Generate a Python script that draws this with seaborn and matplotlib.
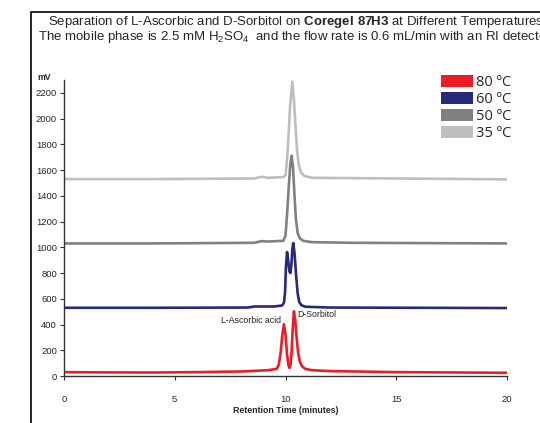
import numpy as np
import pandas as pd
import seaborn as sns
import matplotlib.pyplot as plt
from matplotlib.patches import Patch, Rectangle

# Chromatogram readings (retention time in minutes, signal in mV)
t_80 = [0, 2, 4, 6, 8, 9.2, 9.6, 9.7, 9.78, 9.85, 9.93, 10.0, 10.07, 10.13, 10.18,
        10.23, 10.28, 10.33, 10.38, 10.44, 10.5, 10.57, 10.65, 10.75, 10.9, 11.2, 12, 15, 20]
mv_80 = [30, 28, 27, 30, 35, 45, 55, 90, 180, 310, 403, 320, 170, 85, 62,
         90, 200, 380, 503, 430, 300, 180, 110, 75, 55, 45, 38, 30, 25]

t_60 = [0, 4, 8.3, 8.6, 9.0, 9.5, 9.85, 9.93, 9.98, 10.02, 10.07, 10.12, 10.18, 10.22,
        10.27, 10.31, 10.35, 10.41, 10.48, 10.55, 10.62, 10.72, 10.9, 12, 20]
mv_60 = [530, 530, 532, 540, 540, 540, 548, 570, 650, 850, 963, 900, 810, 800,
         870, 990, 1033, 950, 780, 640, 575, 550, 538, 532, 528]

t_50 = [0, 4, 8.6, 8.9, 9.2, 9.9, 10.0, 10.08, 10.15, 10.22, 10.28, 10.34, 10.4, 10.47,
        10.55, 10.65, 10.8, 11.2, 13, 20]
mv_50 = [1030, 1030, 1035, 1048, 1045, 1050, 1090, 1280, 1480, 1650, 1712, 1620, 1420, 1220,
         1110, 1070, 1050, 1040, 1035, 1030]

t_35 = [0, 4, 8.6, 8.9, 9.2, 9.9, 10.0, 10.07, 10.14, 10.21, 10.31, 10.39, 10.45, 10.52,
        10.6, 10.7, 10.85, 11.2, 20]
mv_35 = [1530, 1530, 1535, 1548, 1540, 1545, 1560, 1680, 1880, 2100, 2287, 2120, 1950, 1760,
         1640, 1580, 1555, 1540, 1528]

labels = ['80 ºC', '60 ºC', '50 ºC', '35 ºC']
colors = ['#ED1C24', '#262A78', '#808080', '#BEBEBE']

frames = []
for lab, t, mv in zip(labels, [t_80, t_60, t_50, t_35], [mv_80, mv_60, mv_50, mv_35]):
    frames.append(pd.DataFrame({'time': t, 'mV': mv, 'temp': lab}))
data = pd.concat(frames, ignore_index=True)

sns.set_style('white')
plt.rcParams['font.family'] = ['Liberation Sans', 'DejaVu Sans']
plt.rcParams['mathtext.fontset'] = 'custom'
plt.rcParams['mathtext.rm'] = 'Liberation Sans'
plt.rcParams['mathtext.bf'] = 'Liberation Sans:bold'

fig = plt.figure(figsize=(5.4, 4.23), dpi=100)
ax = fig.add_axes([64 / 540, 47 / 423, 443 / 540, 296 / 423])

# draw the coolest trace first so red sits on top
sns.lineplot(data=data, x='time', y='mV', hue='temp', hue_order=labels[::-1],
             palette=colors[::-1], estimator=None, sort=False, lw=1.9,
             legend=False, ax=ax)

ax.set_xlim(0, 20)
ax.set_ylim(0, 2300)
ax.set_xticks([0, 5, 10, 15, 20])
ax.set_yticks(range(0, 2201, 200))
for s in ['top', 'right']:
    ax.spines[s].set_visible(False)
for s in ['left', 'bottom']:
    ax.spines[s].set_color('#333333')
    ax.spines[s].set_linewidth(1.0)
ax.tick_params(axis='both', labelsize=6.8, length=3, width=0.8, color='#333333',
               left=True, bottom=True, pad=2)
ax.tick_params(axis='x', pad=11)
ax.set_xlabel('Retention Time (minutes)', fontsize=6.3, fontweight='bold', labelpad=1)
ax.set_ylabel('')
ax.text(-0.045, 1.01, 'mV', transform=ax.transAxes, fontsize=6.3, fontweight='bold',
        ha='center', va='center')

ax.text(9.8, 434, 'L-Ascorbic acid', fontsize=6.3, ha='right', va='center', color='#222222')
ax.text(10.55, 480, 'D-Sorbitol', fontsize=6.3, ha='left', va='center', color='#222222')

handles = [Patch(facecolor=c, edgecolor='none', label=l) for c, l in zip(colors, labels)]
fig.legend(handles=handles, loc='upper left', bbox_to_anchor=(428 / 540, 1 - 62 / 423),
           frameon=False, handlelength=2.2, handleheight=0.9,
           labelspacing=0.12, handletextpad=0.2,
           prop={'family': ['Open Sans', 'DejaVu Sans'], 'size': 10.5})

fig.text(48 / 540, 1 - 22 / 423,
         r'Separation of L-Ascorbic and D-Sorbitol on $\mathbf{Coregel\ 87H3}$ at Different Temperatures',
         fontsize=9.55, ha='left', va='center')
fig.text(38 / 540, 1 - 37 / 423,
         r'The mobile phase is 2.5 mM H$_2$SO$_4$  and the flow rate is 0.6 mL/min with an RI detector',
         fontsize=9.55, ha='left', va='center')

fig.add_artist(Rectangle((31 / 540, -0.1), 1.2, 1 - 12 / 423 + 0.1, transform=fig.transFigure,
                         fill=False, edgecolor='black', lw=1.2))

fig.savefig('out.png', dpi=100)
